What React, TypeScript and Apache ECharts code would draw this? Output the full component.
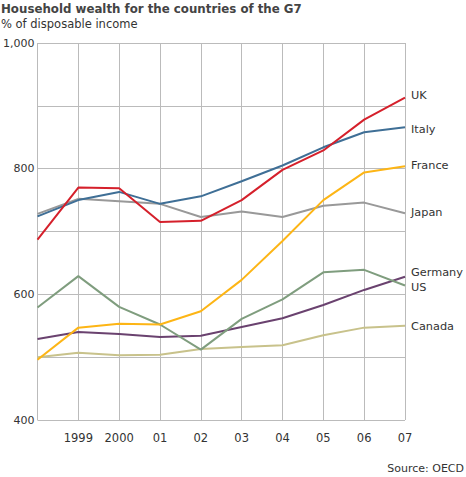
import React, { useEffect, useRef } from "react";
import * as echarts from "echarts";

const years = [1998, 1999, 2000, 2001, 2002, 2003, 2004, 2005, 2006, 2007];
const uk = [687, 770, 769, 715, 717, 750, 798, 829, 878, 913];
const italy = [724, 750, 763, 744, 756, 780, 805, 834, 858, 866];
const france = [496, 547, 553, 552, 573, 623, 685, 750, 794, 804];
const japan = [728, 752, 748, 744, 723, 732, 723, 741, 746, 729];
const germany = [579, 629, 580, 552, 512, 561, 592, 635, 639, 614];
const us = [529, 540, 537, 532, 534, 548, 562, 583, 607, 628];
const canada = [500, 507, 503, 504, 513, 516, 519, 535, 547, 550];

const seriesDefs = [
  { name: "Canada", data: canada, color: "#c8c28b", dy: 1 },
  { name: "US", data: us, color: "#6a426f", dy: 11 },
  { name: "Germany", data: germany, color: "#7f9d7e", dy: -13 },
  { name: "Japan", data: japan, color: "#999999", dy: -1 },
  { name: "France", data: france, color: "#fdb515", dy: -1 },
  { name: "Italy", data: italy, color: "#3f6f96", dy: 2 },
  { name: "UK", data: uk, color: "#d5202b", dy: -2 },
];

const FONT = "DejaVu Sans";

export default function App() {
  const ref = useRef<HTMLDivElement>(null);
  useEffect(() => {
    const chart = echarts.init(ref.current!, null, { renderer: "svg" });
    chart.setOption({
      animation: false,
      backgroundColor: "#ffffff",
      textStyle: { fontFamily: FONT },
      title: [
        {
          text: "Household wealth for the countries of the G7",
          left: 1,
          top: 3,
          padding: 0,
          textStyle: { fontFamily: FONT, fontSize: 11.8, fontWeight: "bold", color: "#444" },
        },
        {
          text: "% of disposable income",
          left: 1,
          top: 18,
          padding: 0,
          textStyle: { fontFamily: FONT, fontSize: 11.5, fontWeight: "normal", color: "#333" },
        },
        {
          text: "Source: OECD",
          right: 2,
          top: 463,
          padding: 0,
          textStyle: { fontFamily: FONT, fontSize: 11, fontWeight: "normal", color: "#333" },
        },
      ],
      grid: { left: 36, right: 61, top: 43, bottom: 57, containLabel: false },
      xAxis: {
        type: "value",
        min: 1998,
        max: 2007,
        interval: 1,
        axisLine: { show: false },
        axisTick: { show: false },
        splitLine: { show: true, lineStyle: { color: "#bbbbbb", width: 1 } },
        axisLabel: {
          margin: 12,
          fontFamily: FONT,
          fontSize: 11.5,
          color: "#333",
          formatter: (v: number) => {
            if (v === 1998) return "";
            if (v === 1999 || v === 2000) return String(v);
            return String(v).slice(2);
          },
        },
      },
      yAxis: {
        type: "value",
        min: 400,
        max: 1000,
        interval: 100,
        axisLine: { show: false },
        axisTick: { show: false },
        splitLine: { show: true, lineStyle: { color: "#bbbbbb", width: 1 } },
        axisLabel: {
          margin: 3,
          fontFamily: FONT,
          fontSize: 11,
          color: "#333",
          formatter: (v: number) => (v % 200 === 0 ? v.toLocaleString("en-US") : ""),
        },
      },
      series: seriesDefs.map((s) => ({
        name: s.name,
        type: "line",
        data: years.map((y, i) => [y, s.data[i]]),
        showSymbol: false,
        symbol: "none",
        lineStyle: { color: s.color, width: 2 },
        itemStyle: { color: s.color },
        endLabel: {
          show: true,
          formatter: s.name,
          distance: 6,
          offset: [0, s.dy],
          fontFamily: FONT,
          fontSize: 11.3,
          color: "#333",
        },
        z: 2,
      })),
    });
    return () => chart.dispose();
  }, []);
  return (
    <div
      ref={ref}
      style={{ position: "absolute", left: 0, top: 0, width: 466, height: 477 }}
    />
  );
}
